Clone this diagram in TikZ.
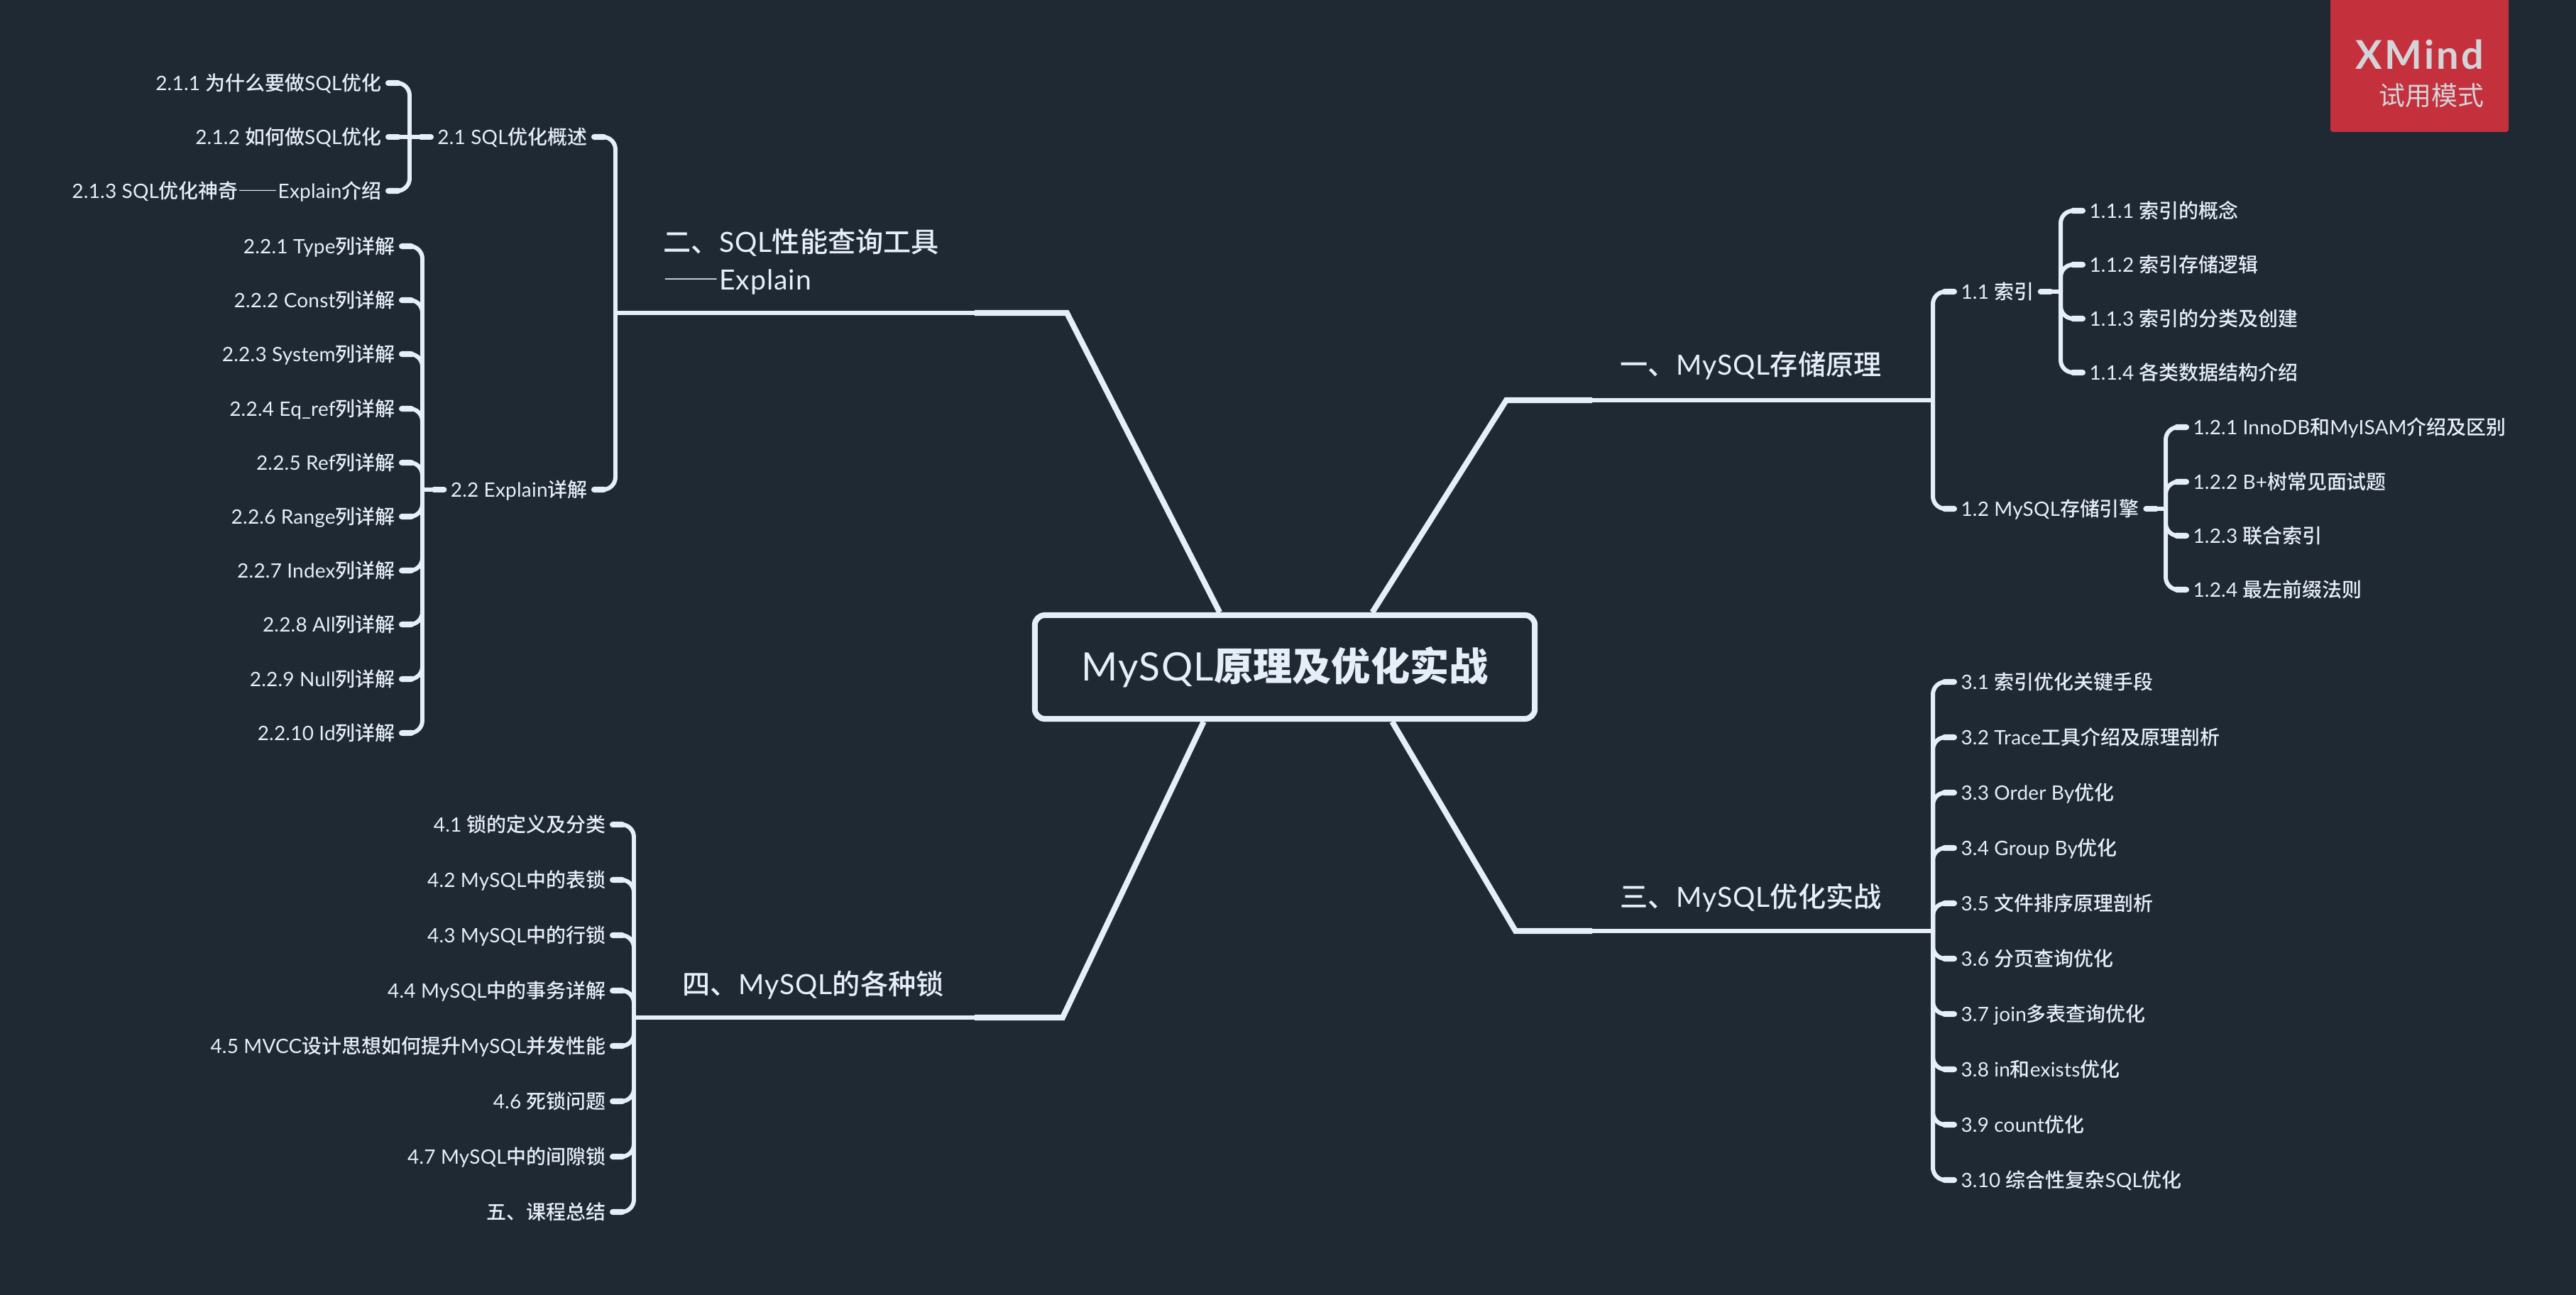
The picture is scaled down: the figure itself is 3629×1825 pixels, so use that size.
\documentclass[tikz,border=0pt]{standalone}
\usepackage{fontspec}
\setmainfont[LetterSpace=2.5]{Lato}
\newfontfamily\cjk{Noto Sans CJK SC Medium}
\newfontfamily\cjklight{Noto Sans CJK SC}
\newfontfamily\cjkbar[RawFeature=+fwid]{Noto Sans CJK SC}
\newcommand{\zh}[1]{{\cjk #1}}
\newcommand{\dashbar}{{\cjkbar ——}}
\usetikzlibrary{positioning}
\definecolor{slate}{RGB}{31, 41, 51}
\definecolor{frost}{RGB}{230, 238, 248}
\definecolor{trialred}{RGB}{196, 49, 61}
\definecolor{trialtext}{RGB}{211, 212, 216}
\tikzset{
    roottopic/.style={draw=frost, fill=slate, text=frost, line width=2.28pt, rounded corners=4pt, minimum width=7.04cm, minimum height=1.46cm, inner sep=0pt, font=\fontsize{15.7}{19}\selectfont},
    maintopic/.style={text=frost, inner sep=0pt, anchor=west, align=left, font=\fontsize{11.15}{15.08}\selectfont},
    subleft/.style={text=frost, inner xsep=2.5pt, inner ysep=0pt, anchor=east, text height=6.9pt, text depth=0.9pt, font=\fontsize{7.95}{10}\selectfont\addfontfeature{LetterSpace=0.8}},
    subright/.style={text=frost, inner xsep=2.5pt, inner ysep=0pt, anchor=west, text height=6.9pt, text depth=0.9pt, font=\fontsize{7.95}{10}\selectfont\addfontfeature{LetterSpace=0.8}},
    thicklink/.style={frost, line width=2.28pt, line join=miter},
    thinlink/.style={frost, line width=1.7pt},
    sublink/.style={frost, line width=1.7pt, rounded corners=5pt, line cap=round, postaction={draw, line width=2.3pt, dash pattern=on 4pt off 2000pt}}
}

\begin{document}
\begin{tikzpicture}[x=0.01cm, y=-0.01cm]
    % Page & trial badge
    \useasboundingbox (0, 0) rectangle (3629, 1825);
    \fill[slate]                                (0, 0) rectangle (3629, 1825);
    \fill[trialred, rounded corners=1pt]        (3283, -8) rectangle (3534, 186);
    \node[text=trialtext, inner sep=0pt, anchor=base east, font=\fontsize{15.9}{19}\selectfont\bfseries\addfontfeature{LetterSpace=6}] (badge) at (3500, 98) {XMind};
    \node[text=trialtext, inner sep=0pt, anchor=east, font=\fontsize{10.5}{13}\selectfont] (mode) at (3500, 135) {{\cjklight 试用模式}};

    % Centre
    \node[roottopic] (root) at (1810, 940) {MySQL{\cjklight\bfseries 原理及优化实战}};

    % One
    \node[maintopic] (n1) at (2282, 515) {\zh{一、}MySQL\zh{存储原理}};
    \coordinate (c1) at (2122, 564);
    \coordinate (t1) at (2243, 564);
    \coordinate (b1) at (2723, 564);
    \draw[thicklink] (root.32) -- (c1) -- (t1);
    \draw[thinlink]  (t1) -- (b1);
    \node[subright] (n11) at (2753, 411) {1.1 \zh{索引}};
    \node[subright] (n12) at (2753, 717) {1.2 MySQL\zh{存储引擎}};
    \draw[sublink] (n11.west) -| (b1);
    \draw[sublink] (n12.west) -| (b1);
    \coordinate (b11) at (2903, 411);
    \coordinate (b12) at (3051, 717);
    \draw[sublink] (n11.east) -- (b11);
    \draw[sublink] (n12.east) -- (b12);
    \node[subright] (n111) at (2934, 297) {1.1.1 \zh{索引的概念}};
    \node[subright] (n112) at (2934, 373) {1.1.2 \zh{索引存储逻辑}};
    \node[subright] (n113) at (2934, 449) {1.1.3 \zh{索引的分类及创建}};
    \node[subright] (n114) at (2934, 525) {1.1.4 \zh{各类数据结构介绍}};
    \draw[sublink] (n111.west) -| (b11);
    \draw[sublink] (n112.west) -| (b11);
    \draw[sublink] (n113.west) -| (b11);
    \draw[sublink] (n114.west) -| (b11);
    \node[subright] (n121) at (3080, 602) {1.2.1 InnoDB\zh{和}MyISAM\zh{介绍及区别}};
    \node[subright] (n122) at (3080, 679) {1.2.2 B+\zh{树常见面试题}};
    \node[subright] (n123) at (3080, 755) {1.2.3 \zh{联合索引}};
    \node[subright] (n124) at (3080, 831) {1.2.4 \zh{最左前缀法则}};
    \draw[sublink] (n121.west) -| (b12);
    \draw[sublink] (n122.west) -| (b12);
    \draw[sublink] (n123.west) -| (b12);
    \draw[sublink] (n124.west) -| (b12);

    % Two
    \node[maintopic] (n2) at (934, 369) {\zh{二、}SQL\zh{性能查询工具}\\\dashbar Explain};
    \coordinate (c2) at (1503, 441);
    \coordinate (t2) at (1373, 441);
    \coordinate (b2) at (867, 441);
    \draw[thicklink] (root.140) -- (c2) -- (t2);
    \draw[thinlink]  (t2) -- (b2);
    \node[subleft] (n21) at (837, 193) {2.1 SQL\zh{优化概述}};
    \node[subleft] (n22) at (837, 690) {2.2 Explain\zh{详解}};
    \draw[sublink] (n21.east) -| (b2);
    \draw[sublink] (n22.east) -| (b2);
    \coordinate (b21) at (577, 193);
    \coordinate (b22) at (595, 690);
    \draw[sublink] (n21.west) -- (b21);
    \draw[sublink] (n22.west) -- (b22);
    \node[subleft] (n211) at (547, 117) {2.1.1 \zh{为什么要做}SQL\zh{优化}};
    \node[subleft] (n212) at (547, 193) {2.1.2 \zh{如何做}SQL\zh{优化}};
    \node[subleft] (n213) at (547, 269) {2.1.3 SQL\zh{优化神奇}\dashbar Explain\zh{介绍}};
    \draw[sublink] (n211.east) -| (b21);
    \draw[sublink] (n212.east) -- (b21);
    \draw[sublink] (n213.east) -| (b21);
    \node[subleft] (n221) at (566, 347) {2.2.1 Type\zh{列详解}};
    \node[subleft] (n222) at (566, 423) {2.2.2 Const\zh{列详解}};
    \node[subleft] (n223) at (566, 499) {2.2.3 System\zh{列详解}};
    \node[subleft] (n224) at (566, 576) {2.2.4 Eq\_ref\zh{列详解}};
    \node[subleft] (n225) at (566, 652) {2.2.5 Ref\zh{列详解}};
    \node[subleft] (n226) at (566, 728) {2.2.6 Range\zh{列详解}};
    \node[subleft] (n227) at (566, 804) {2.2.7 Index\zh{列详解}};
    \node[subleft] (n228) at (566, 880) {2.2.8 All\zh{列详解}};
    \node[subleft] (n229) at (566, 957) {2.2.9 Null\zh{列详解}};
    \node[subleft] (n2210) at (566, 1033) {2.2.10 Id\zh{列详解}};
    \draw[sublink] (n221.east) -| (b22);
    \draw[sublink] (n222.east) -| (b22);
    \draw[sublink] (n223.east) -| (b22);
    \draw[sublink] (n224.east) -| (b22);
    \draw[sublink] (n225.east) -| (b22);
    \draw[sublink] (n226.east) -| (b22);
    \draw[sublink] (n227.east) -| (b22);
    \draw[sublink] (n228.east) -| (b22);
    \draw[sublink] (n229.east) -| (b22);
    \draw[sublink] (n2210.east) -| (b22);

    % Three
    \node[maintopic] (n3) at (2282, 1265) {\zh{三、}MySQL\zh{优化实战}};
    \coordinate (c3) at (2135, 1312);
    \coordinate (t3) at (2243, 1312);
    \coordinate (b3) at (2723, 1312);
    \draw[thicklink] (root.-27) -- (c3) -- (t3);
    \draw[thinlink]  (t3) -- (b3);
    \node[subright] (n31) at (2753, 961) {3.1 \zh{索引优化关键手段}};
    \node[subright] (n32) at (2753, 1039) {3.2 Trace\zh{工具介绍及原理剖析}};
    \node[subright] (n33) at (2753, 1117) {3.3 Order By\zh{优化}};
    \node[subright] (n34) at (2753, 1195) {3.4 Group By\zh{优化}};
    \node[subright] (n35) at (2753, 1273) {3.5 \zh{文件排序原理剖析}};
    \node[subright] (n36) at (2753, 1351) {3.6 \zh{分页查询优化}};
    \node[subright] (n37) at (2753, 1429) {3.7 join\zh{多表查询优化}};
    \node[subright] (n38) at (2753, 1507) {3.8 in\zh{和}exists\zh{优化}};
    \node[subright] (n39) at (2753, 1585) {3.9 count\zh{优化}};
    \node[subright] (n310) at (2753, 1663) {3.10 \zh{综合性复杂}SQL\zh{优化}};
    \draw[sublink] (n31.west) -| (b3);
    \draw[sublink] (n32.west) -| (b3);
    \draw[sublink] (n33.west) -| (b3);
    \draw[sublink] (n34.west) -| (b3);
    \draw[sublink] (n35.west) -| (b3);
    \draw[sublink] (n36.west) -| (b3);
    \draw[sublink] (n37.west) -| (b3);
    \draw[sublink] (n38.west) -| (b3);
    \draw[sublink] (n39.west) -| (b3);
    \draw[sublink] (n310.west) -| (b3);

    % Four
    \node[maintopic] (n4) at (961, 1388) {\zh{四、}MySQL\zh{的各种锁}};
    \coordinate (c4) at (1497, 1434);
    \coordinate (t4) at (1373, 1434);
    \coordinate (b4) at (893, 1434);
    \draw[thicklink] (root.214) -- (c4) -- (t4);
    \draw[thinlink]  (t4) -- (b4);
    \node[subleft] (n41) at (863, 1162) {4.1 \zh{锁的定义及分类}};
    \node[subleft] (n42) at (863, 1240) {4.2 MySQL\zh{中的表锁}};
    \node[subleft] (n43) at (863, 1318) {4.3 MySQL\zh{中的行锁}};
    \node[subleft] (n44) at (863, 1396) {4.4 MySQL\zh{中的事务详解}};
    \node[subleft] (n45) at (863, 1474) {4.5 MVCC\zh{设计思想如何提升}MySQL\zh{并发性能}};
    \node[subleft] (n46) at (863, 1552) {4.6 \zh{死锁问题}};
    \node[subleft] (n47) at (863, 1630) {4.7 MySQL\zh{中的间隙锁}};
    \node[subleft] (n48) at (863, 1708) {\zh{五、课程总结}};
    \draw[sublink] (n41.east) -| (b4);
    \draw[sublink] (n42.east) -| (b4);
    \draw[sublink] (n43.east) -| (b4);
    \draw[sublink] (n44.east) -| (b4);
    \draw[sublink] (n45.east) -| (b4);
    \draw[sublink] (n46.east) -| (b4);
    \draw[sublink] (n47.east) -| (b4);
    \draw[sublink] (n48.east) -| (b4);
\end{tikzpicture}
\end{document}
